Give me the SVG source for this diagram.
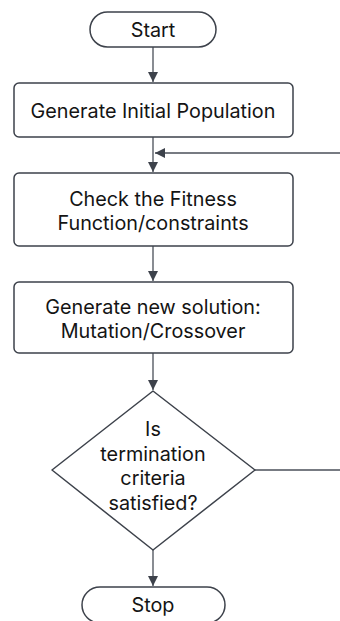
<svg xmlns="http://www.w3.org/2000/svg" width="340" height="621" viewBox="0 0 340 621">
<style>
.n{fill:#ffffff;stroke:#3d424b;stroke-width:1.5;stroke-linejoin:round}
.t{font-family:Inter,"Noto Sans","Liberation Sans",sans-serif;font-size:19.8px;fill:#141414;text-anchor:middle}
.c{fill:none;stroke:#4a4f58;stroke-width:1.3}
</style>
<defs>
<marker id="ah" viewBox="0 0 10 10" refX="10" refY="5" markerWidth="10" markerHeight="10" markerUnits="userSpaceOnUse" orient="auto">
<path d="M0,0 L10,5 L0,10 Z" fill="#3d424b"/>
</marker>
</defs>
<rect width="340" height="621" fill="#ffffff"/>
<g id="connectors">
<line class="c" x1="153" y1="47" x2="153" y2="82" marker-end="url(#ah)"/>
<line class="c" x1="153" y1="137" x2="153" y2="172" marker-end="url(#ah)"/>
<line class="c" x1="340" y1="153" x2="155" y2="153" marker-end="url(#ah)"/>
<line class="c" x1="153" y1="246" x2="153" y2="281" marker-end="url(#ah)"/>
<line class="c" x1="153" y1="353" x2="153" y2="390" marker-end="url(#ah)"/>
<line class="c" x1="255" y1="470" x2="340" y2="470"/>
<line class="c" x1="153" y1="550" x2="153" y2="586" marker-end="url(#ah)"/>
</g>
<g id="start">
<rect class="n" x="90" y="12" width="126" height="35" rx="17.5"/>
<text class="t" x="153" y="36.5">Start</text>
</g>
<g id="init">
<rect class="n" x="14" y="83" width="279" height="54" rx="5"/>
<text class="t" x="153" y="118">Generate Initial Population</text>
</g>
<g id="fitness">
<rect class="n" x="14" y="173" width="279" height="73" rx="5"/>
<text class="t" x="153" y="206">Check the Fitness</text>
<text class="t" x="153" y="230">Function/constraints</text>
</g>
<g id="newsol">
<rect class="n" x="14" y="282" width="279" height="71" rx="5"/>
<text class="t" x="153" y="314">Generate new solution:</text>
<text class="t" x="153" y="338">Mutation/Crossover</text>
</g>
<g id="decision">
<polygon class="n" points="153,391 255,470 153,550 52,470"/>
<text class="t" x="153" y="436">Is</text>
<text class="t" x="153" y="460.5">termination</text>
<text class="t" x="153" y="485">criteria</text>
<text class="t" x="153" y="509.5">satisfied?</text>
</g>
<g id="stop">
<rect class="n" x="82" y="587" width="143" height="36" rx="18"/>
<text class="t" x="153" y="612">Stop</text>
</g>
</svg>
